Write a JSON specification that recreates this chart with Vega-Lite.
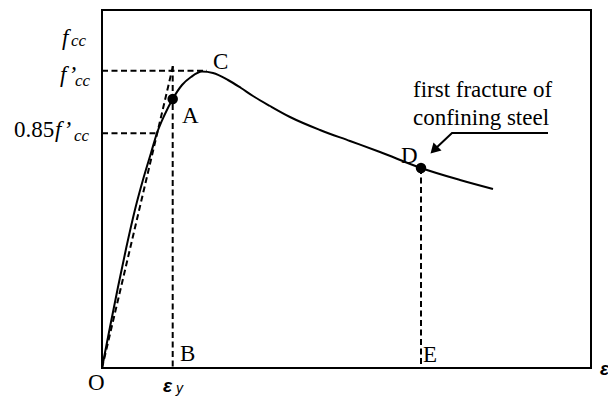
{
  "$schema": "https://vega.github.io/schema/vega-lite/v6.json",
  "width": 489,
  "height": 358,
  "autosize": {"type": "none"},
  "padding": {"left": 102, "top": 10, "right": 17, "bottom": 37},
  "background": "white",
  "config": {"view": {"stroke": "black", "strokeWidth": 2}},
  "datasets": {
    "curve": [
      {"x": 0, "y": 0}, {"x": 7.8, "y": 40}, {"x": 15.8, "y": 80}, {"x": 24.2, "y": 120},
      {"x": 33.4, "y": 160}, {"x": 41.5, "y": 190}, {"x": 49, "y": 215}, {"x": 55, "y": 235},
      {"x": 62.5, "y": 253}, {"x": 70.7, "y": 269}, {"x": 80, "y": 283}, {"x": 89, "y": 291},
      {"x": 100, "y": 296.5},
      {"x": 111, "y": 295}, {"x": 126, "y": 288}, {"x": 139, "y": 280}, {"x": 151, "y": 272},
      {"x": 168, "y": 262}, {"x": 188, "y": 251}, {"x": 218, "y": 238}, {"x": 248, "y": 227},
      {"x": 278, "y": 216}, {"x": 319, "y": 200}, {"x": 358, "y": 188}, {"x": 391, "y": 179}
    ],
    "dash": [
      {"x": 0, "y": 297.3, "x2": 105, "y2": 297.3},
      {"x": 0, "y": 234.7, "x2": 55, "y2": 234.7},
      {"x": 70.7, "y": 302, "x2": 70.7, "y2": 0},
      {"x": 0, "y": 0, "x2": 71, "y2": 302},
      {"x": 319, "y": 200, "x2": 319, "y2": 0}
    ],
    "arrow": [
      {"i": 1, "x": 446, "y": 235},
      {"i": 2, "x": 350, "y": 235},
      {"i": 3, "x": 332, "y": 218}
    ],
    "head": [{"x": 332, "y": 218}],
    "dots": [{"name": "A", "x": 70.7, "y": 269}, {"name": "D", "x": 319, "y": 200}],
    "serif": [
      {"label": "C", "x": 111, "y": 299},
      {"label": "A", "x": 80, "y": 245},
      {"label": "B", "x": 78, "y": 7},
      {"label": "E", "x": 321, "y": 6},
      {"label": "D", "x": 299, "y": 205},
      {"label": "O", "x": -14, "y": -22},
      {"label": "0.85", "x": -88, "y": 231},
      {"label": "first fracture of", "x": 311, "y": 271},
      {"label": "confining steel", "x": 311, "y": 243}
    ],
    "italic": [
      {"label": "f", "x": -40, "y": 323},
      {"label": "f’", "x": -42, "y": 286},
      {"label": "f’", "x": -47, "y": 231}
    ],
    "sub": [
      {"label": "cc", "x": -31, "y": 322},
      {"label": "cc", "x": -27, "y": 282},
      {"label": "cc", "x": -28, "y": 227}
    ],
    "eps": [
      {"label": "ε", "x": 61, "y": -24},
      {"label": "ε", "x": 498, "y": -7}
    ],
    "epssub": [{"label": "y", "x": 74, "y": -25}]
  },
  "encoding": {
    "x": {"field": "x", "type": "quantitative", "scale": {"domain": [0, 489], "nice": false, "zero": false}, "axis": null},
    "y": {"field": "y", "type": "quantitative", "scale": {"domain": [0, 358], "nice": false, "zero": false}, "axis": null}
  },
  "layer": [
    {
      "data": {"name": "dash"},
      "mark": {"type": "rule", "color": "black", "strokeWidth": 2, "strokeDash": [6, 3.5]},
      "encoding": {
        "x2": {"field": "x2"},
        "y2": {"field": "y2"}
      }
    },
    {
      "data": {"name": "curve"},
      "mark": {"type": "line", "color": "black", "strokeWidth": 2, "interpolate": "monotone"},
      "encoding": {}
    },
    {
      "data": {"name": "arrow"},
      "mark": {"type": "line", "color": "black", "strokeWidth": 2},
      "encoding": {"order": {"field": "i", "type": "quantitative"}}
    },
    {
      "data": {"name": "head"},
      "mark": {"type": "point", "shape": "triangle-up", "filled": true, "color": "black", "opacity": 1, "size": 130, "angle": 225}
    },
    {
      "data": {"name": "dots"},
      "mark": {"type": "circle", "color": "black", "opacity": 1, "size": 110}
    },
    {
      "data": {"name": "serif"},
      "mark": {"type": "text", "font": "Liberation Serif", "fontSize": 23, "align": "left", "baseline": "alphabetic", "color": "black"},
      "encoding": {"text": {"field": "label"}}
    },
    {
      "data": {"name": "italic"},
      "mark": {"type": "text", "font": "Liberation Serif", "fontStyle": "italic", "fontSize": 23, "align": "left", "baseline": "alphabetic", "color": "black"},
      "encoding": {"text": {"field": "label"}}
    },
    {
      "data": {"name": "sub"},
      "mark": {"type": "text", "font": "Liberation Serif", "fontStyle": "italic", "fontSize": 17, "align": "left", "baseline": "alphabetic", "color": "black"},
      "encoding": {"text": {"field": "label"}}
    },
    {
      "data": {"name": "eps"},
      "mark": {"type": "text", "font": "Liberation Sans", "fontStyle": "italic", "fontWeight": "bold", "fontSize": 19, "align": "left", "baseline": "alphabetic", "color": "black"},
      "encoding": {"text": {"field": "label"}}
    },
    {
      "data": {"name": "epssub"},
      "mark": {"type": "text", "font": "Liberation Sans", "fontStyle": "italic", "fontSize": 14, "align": "left", "baseline": "alphabetic", "color": "black"},
      "encoding": {"text": {"field": "label"}}
    }
  ]
}
